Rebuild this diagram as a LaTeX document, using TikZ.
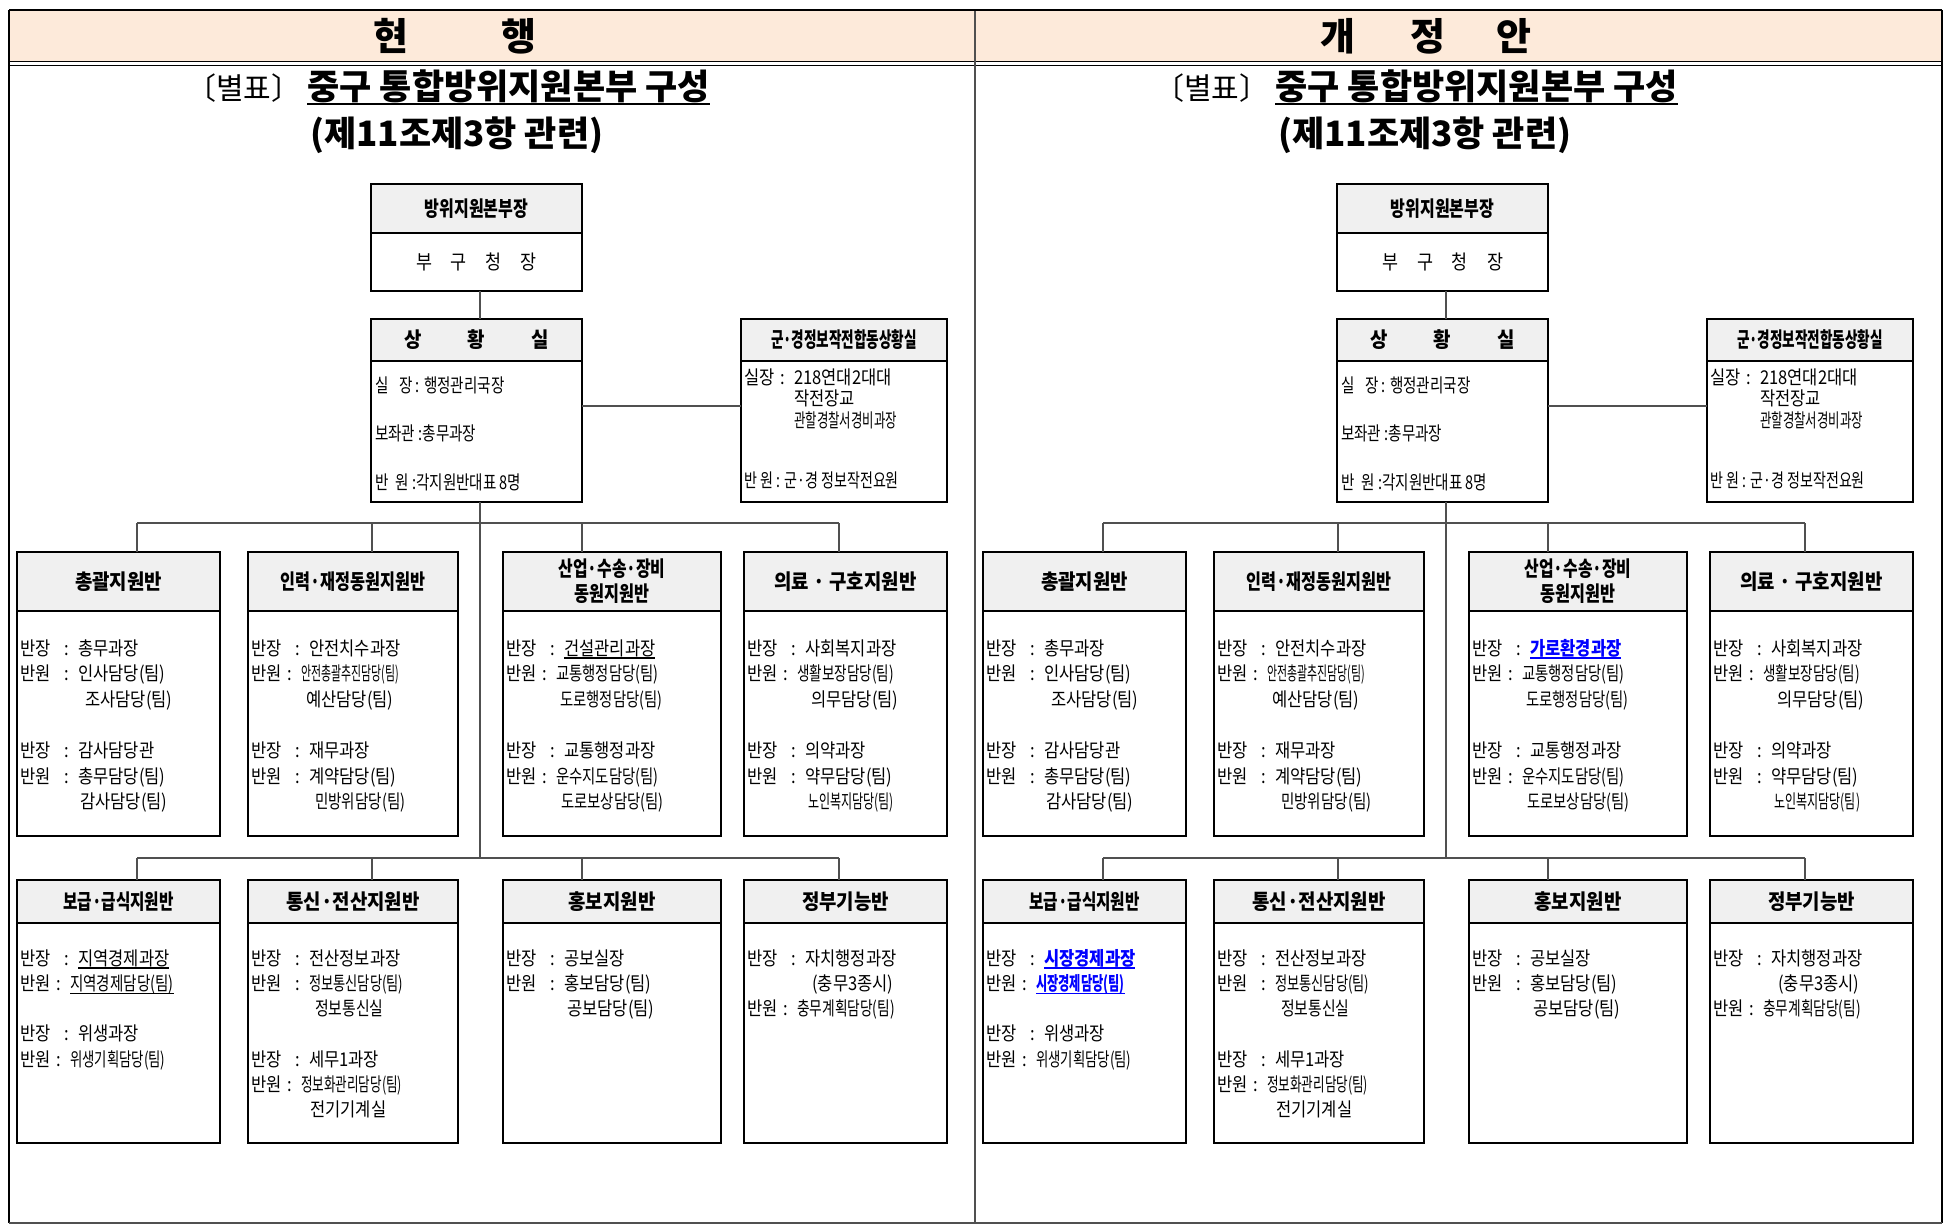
\documentclass[tikz,border=0pt]{standalone}
\usepackage{fontspec}
\setmainfont{Noto Sans CJK KR}
\newfontfamily\bodyfam{Noto Sans CJK KR}[FakeStretch=0.87]
\newfontfamily\hdfam{Noto Sans CJK KR}[FakeStretch=0.9]
\usepackage{graphicx}
\definecolor{peach}{RGB}{253,234,218}
\definecolor{hgray}{RGB}{240,240,240}
\definecolor{lgray}{RGB}{80,80,80}
\definecolor{kblue}{RGB}{0,0,255}
\newcommand\bodyfont{\bodyfam\fontsize{19}{22}\selectfont}
\newcommand\hdfont{\hdfam\fontsize{21}{25}\selectfont\bfseries}
\newcommand\lab[1]{\makebox[44pt][l]{#1}\makebox[14pt][l]{:}}
\newcommand\labs[1]{\makebox[36pt][l]{#1}\makebox[14pt][l]{:}}
\newcommand\sq[2]{\scalebox{#1}[1]{#2}}
\newbox\ulbox
\newcommand\ul[1]{\setbox\ulbox\hbox{#1}\rlap{\raisebox{-3.5pt}{\rule{\wd\ulbox}{1.2pt}}}\box\ulbox}
\newcommand\ulT[1]{\setbox\ulbox\hbox{#1}\rlap{\raisebox{-5pt}{\rule{\wd\ulbox}{2pt}}}\box\ulbox}
\tikzset{
 obody/.style={draw=black, line width=2pt, fill=white, inner sep=0pt, outer sep=0pt},
 ohead/.style={draw=black, line width=2pt, fill=hgray, inner sep=0pt, outer sep=0pt},
 htext/.style={font=\hdfont, inner sep=0pt, align=center},
 btext/.style={font=\bodyfont, anchor=base west, inner sep=0pt},
 conn/.style={draw=lgray, line width=1.3pt},
 frame/.style={draw=black, line width=2.5pt},
}
\newcommand\obox[7]{%
 \node[obody, anchor=north west, minimum width=#4pt, minimum height=#5pt] (#1) at ({#2},#3) {};
 \node[ohead, anchor=north west, minimum width=#4pt, minimum height=#6pt] (#1h) at ({#2},#3) {};
 \node[htext] (#1t) at (#1h.center) {#7};}
\newcommand\blines[4]{\foreach \dy/\txt [count=\c] in {#4}{\node[btext] (#1-\c) at ({#2},{#3+\dy}) {\txt};}}
% #1 dx, #2 prefix, #3 industry chief, #4 supply chief, #5 supply member
\newcommand\half[5]{%
 \coordinate (#2b1) at ({480+#1},523);
 \coordinate (#2b2) at ({480+#1},858);
 \coordinate (#2cj) at ({660+#1},406);
 \foreach \i/\xx in {1/137,2/372,3/582,4/839}{
   \coordinate (#2x\i) at ({\xx+#1},523);
   \coordinate (#2y\i) at ({\xx+#1},858);}
 \obox{#2hq}{371+#1}{184}{211}{107}{49}{\sq{0.85}{방위지원본부장}}
 \node[font=\bodyfam\fontsize{20}{22}\selectfont, inner sep=0pt] (#2hqs) at ({476.5+#1},262) {\makebox[121pt][s]{부\hfill 구\hfill 청\hfill 장}};
 \obox{#2sit}{371+#1}{319}{211}{183}{42}{\makebox[145pt][s]{상\hfill 황\hfill 실}}
 \blines{#2sb}{375+#1}{392}{0/\sq{0.88}{실\hspace{12pt}장 : 행정관리국장},48.5/\sq{0.88}{보좌관 :총무과장},97/\sq{0.88}{반\hspace{8pt}원 :각지원반대표 8명}}
 \obox{#2jnt}{741+#1}{319}{206}{183}{42}{\sq{0.72}{군·경정보작전합동상황실}}
 \blines{#2jb}{744+#1}{384}{0/\labs{실장}218연대2대대,21.5/\hspace*{50pt}작전장교,43/\hspace*{50pt}\sq{0.75}{관할경찰서경비과장},103/\sq{0.85}{반 원 : 군·경 정보작전요원}}
 \obox{#2c1}{17+#1}{552}{203}{284}{59}{총괄지원반}
 \obox{#2c2}{248+#1}{552}{210}{284}{59}{\sq{0.86}{인력·재정동원지원반}}
 \obox{#2c3}{503+#1}{552}{218}{284}{59}{\sq{0.84}{산업·수송·장비}\\\sq{0.86}{동원지원반}}
 \obox{#2c4}{744+#1}{552}{203}{284}{59}{의료 · 구호지원반}
 \obox{#2d1}{17+#1}{880}{203}{263}{43}{\sq{0.83}{보급·급식지원반}}
 \obox{#2d2}{248+#1}{880}{210}{263}{43}{통신·전산지원반}
 \obox{#2d3}{503+#1}{880}{218}{263}{43}{홍보지원반}
 \obox{#2d4}{744+#1}{880}{203}{263}{43}{정부기능반}
 \draw[conn] (#2hq.south -| #2b1) -- (#2sit.north -| #2b1);
 \draw[conn] (#2sit.south -| #2b1) -- (#2b2);
 \draw[conn] (#2sit.east |- #2cj) -- (#2jnt.west |- #2cj);
 \draw[conn] (#2x1) -- (#2x4);
 \draw[conn] (#2y1) -- (#2y4);
 \foreach \i in {1,...,4}{
   \draw[conn] (#2x\i) -- (#2x\i |- #2c\i.north);
   \draw[conn] (#2y\i) -- (#2y\i |- #2d\i.north);}
 \blines{#2c1b}{20+#1}{655}{0/\lab{반장}총무과장,25.6/\lab{반원}인사담당(팀),51.2/\hspace*{65pt}조사담당(팀),102.4/\lab{반장}감사담당관,128/\lab{반원}총무담당(팀),153.6/\hspace*{60pt}감사담당(팀)}
 \blines{#2c2b}{251+#1}{655}{0/\lab{반장}안전치수과장,25.6/\labs{반원}\sq{0.66}{안전총괄추진담당(팀)},51.2/\hspace*{55pt}예산담당(팀),102.4/\lab{반장}재무과장,128/\lab{반원}계약담당(팀),153.6/\hspace*{64pt}\sq{0.88}{민방위담당(팀)}}
 \blines{#2c3b}{506+#1}{655}{0/\lab{반장}#3,25.6/\labs{반원}\sq{0.87}{교통행정담당(팀)},51.2/\hspace*{54pt}\sq{0.87}{도로행정담당(팀)},102.4/\lab{반장}교통행정과장,128/\labs{반원}\sq{0.87}{운수지도담당(팀)},153.6/\hspace*{55pt}\sq{0.87}{도로보상담당(팀)}}
 \blines{#2c4b}{747+#1}{655}{0/\lab{반장}사회복지과장,25.6/\labs{반원}\sq{0.82}{생활보장담당(팀)},51.2/\hspace*{64pt}의무담당(팀),102.4/\lab{반장}의약과장,128/\lab{반원}약무담당(팀),153.6/\hspace*{61pt}\sq{0.73}{노인복지담당(팀)}}
 \blines{#2d1b}{20+#1}{965}{0/\lab{반장}#4,25.3/\labs{반원}#5,75.9/\lab{반장}위생과장,101.2/\labs{반원}\sq{0.81}{위생기획담당(팀)}}
 \blines{#2d2b}{251+#1}{965}{0/\lab{반장}전산정보과장,25.3/\lab{반원}\sq{0.8}{정보통신담당(팀)},50.6/\hspace*{64pt}\sq{0.9}{정보통신실},101.2/\lab{반장}세무1과장,126.5/\labs{반원}\sq{0.76}{정보화관리담당(팀)},151.8/\hspace*{59pt}전기기계실}
 \blines{#2d3b}{506+#1}{965}{0/\lab{반장}공보실장,25.3/\lab{반원}홍보담당(팀),50.6/\hspace*{61pt}공보담당(팀)}
 \blines{#2d4b}{747+#1}{965}{0/\lab{반장}자치행정과장,25.3/\hspace*{65pt}(충무3종시),50.6/\labs{반원}\sq{0.83}{충무계획담당(팀)}}
}
\begin{document}
\begin{tikzpicture}[x=1pt,y=-1pt]
\useasboundingbox (0,0) rectangle (1947,1225);
\fill[white] (0,0) rectangle (1947,1225);
% header band
\fill[peach] (9,10) rectangle (1942,62);
\draw[line width=1pt] (9,62) -- (1942,62);
\draw[line width=1pt] (9,66) -- (1942,66);
\draw[draw=lgray, line width=1.2pt] (975,10) -- (975,1223);
\node[font=\fontsize{38}{40}\selectfont\bfseries, inner sep=0pt] (hL) at (455,36) {현\hspace{94pt}행};
\node[font=\fontsize{38}{40}\selectfont\bfseries, inner sep=0pt] (hR) at (1426,36) {개\hspace{55pt}정\hspace{51pt}안};
% titles
\node[anchor=base west, inner sep=0pt] (t1L) at (186,100) {{\fontsize{30}{30}\selectfont 〔별표〕}\hspace{6pt}{\fontsize{35}{35}\selectfont\bfseries\ulT{중구 통합방위지원본부 구성}}};
\node[anchor=base west, inner sep=0pt, font=\fontsize{35}{35}\selectfont\bfseries] (t2L) at (310,147) {(제11조제3항 관련)};
\node[anchor=base west, inner sep=0pt] (t1R) at (1154,100) {{\fontsize{30}{30}\selectfont 〔별표〕}\hspace{6pt}{\fontsize{35}{35}\selectfont\bfseries\ulT{중구 통합방위지원본부 구성}}};
\node[anchor=base west, inner sep=0pt, font=\fontsize{35}{35}\selectfont\bfseries] (t2R) at (1278,147) {(제11조제3항 관련)};
% two halves
\half{0}{L}{\ul{건설관리과장}}{\ul{지역경제과장}}{\ul{\sq{0.88}{지역경제담당(팀)}}}
\half{966}{R}{\textcolor{kblue}{\bfseries\ul{가로환경과장}}}{\textcolor{kblue}{\bfseries\ul{시장경제과장}}}{\textcolor{kblue}{\bfseries\ul{\sq{0.74}{시장경제담당(팀)}}}}
% outer frame
\draw[frame] (9,10) -- (1942,10);
\draw[frame] (9,10) -- (9,1223);
\draw[frame] (1942,10) -- (1942,1223);
\draw[draw=lgray, line width=1.5pt] (9,1223) -- (1942,1223);
\end{tikzpicture}
\end{document}
